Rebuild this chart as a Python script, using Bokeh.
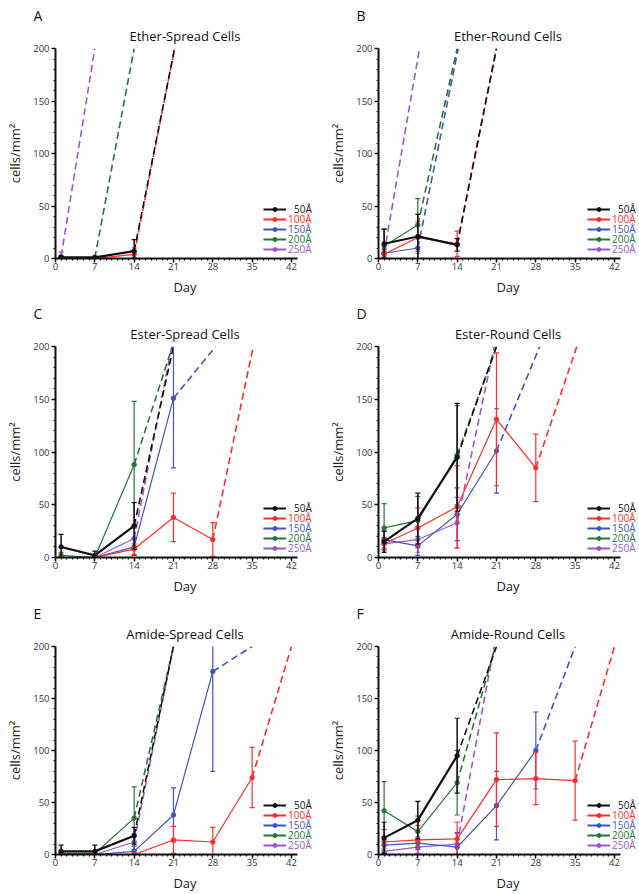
from bokeh.plotting import figure
from bokeh.layouts import column, row
from bokeh.models import FixedTicker, Range1d, Legend, LegendItem, Title
from bokeh.embed import file_html
from bokeh.resources import INLINE

FONT = "Open Sans"

# ---------------- data ----------------
DAYS = [1, 7, 14, 21, 28, 35]
X_TICKS = [0, 7, 14, 21, 28, 35, 42]
Y_TICKS = [0, 50, 100, 150, 200]
Y_TOP = 200
SERIES = ["50Å", "100Å", "150Å", "200Å", "250Å"]
COLORS = ["#111111", "#ff2d2d", "#4255b8", "#23773a", "#9b57c9"]

# each panel: mean per series (at DAYS), SD per series, day at which dashed extrapolation reaches 200
A_MEAN = [[1, 1, 7], [0, 0, 4], [0, 0, 0], [0, 0.5], [2]]
A_SD = [[1, 1, 11], [0.5, 0.5, 6], [0, 0, 0], [0.5, 1], [4]]
A_DASH = [21.2, 21.2, None, 14.0, 7.0]

B_MEAN = [[14, 21, 13], [4, 20, 14], [5, 10], [12, 32], [5]]
B_SD = [[14, 21, 6], [3, 15, 12], [4, 10], [16, 25], [4]]
B_DASH = [21.0, 21.0, 14.2, 14.0, 7.3]

C_MEAN = [[10, 2, 30], [0, 0, 8, 38, 17], [0, 0, 10, 151], [2, 0, 88], [0, 0, 18]]
C_SD = [[12, 4, 22], [1, 1, 5, 23, 16], [1, 1, 8, 66], [3, 1, 60], [1, 1, 10]]
C_DASH = [21.0, 35.2, 28.5, 20.8, 20.7]

D_MEAN = [[15, 37, 95], [13, 28, 48, 131, 85], [17, 11, 41, 101], [28, 35, 97], [13, 17, 33]]
D_SD = [[10, 24, 51], [5, 19, 39, 63, 32], [8, 9, 25, 40], [23, 23, 47], [6, 12, 24]]
D_DASH = [21.0, 35.3, 28.7, 21.0, 20.6]

E_MEAN = [[3, 3, 18], [0, 0, 0, 14, 12, 74], [0, 0, 3, 38, 176], [1, 1, 35], [0, 0, 12]]
E_SD = [[6, 6, 8], [1, 1, 1, 13, 14, 29], [1, 1, 5, 26, 96], [2, 2, 30], [1, 1, 8]]
E_DASH = [21.0, 42.0, 35.0, 21.0, 21.0]

F_MEAN = [[16, 33, 95], [12, 14, 15, 72, 73, 71], [9, 11, 7, 47, 100], [42, 22, 69], [3, 7, 10]]
F_SD = [[15, 18, 36], [12, 14, 16, 45, 25, 38], [8, 6, 14, 33, 37], [28, 15, 31], [3, 6, 10]]
F_DASH = [21.0, 42.0, 35.0, 20.8, 20.6]

LETTERS = ["A", "B", "C", "D", "E", "F"]
TITLES = ["Ether-Spread Cells", "Ether-Round Cells", "Ester-Spread Cells",
          "Ester-Round Cells", "Amide-Spread Cells", "Amide-Round Cells"]
MEANS = [A_MEAN, B_MEAN, C_MEAN, D_MEAN, E_MEAN, F_MEAN]
SDS = [A_SD, B_SD, C_SD, D_SD, E_SD, F_SD]
DASHES = [A_DASH, B_DASH, C_DASH, D_DASH, E_DASH, F_DASH]

# ---------------- layout ----------------
ROW_H = [298, 300, 296]
ROW_TOP = [48, 48, 48]
ROW_FRAME = [211, 211, 210]
NAN = float("nan")


def make_panel(idx):
    right = idx % 2 == 1
    r = idx // 2
    w = 319 if right else 320
    bl = 58 if right else 55
    br = 2 if right else 6
    h = ROW_H[r]
    top = ROW_TOP[r]
    fh = ROW_FRAME[r]
    p = figure(width=w, height=h, x_range=Range1d(0, 46.1), y_range=Range1d(0, Y_TOP),
               output_backend="svg", toolbar_location=None,
               min_border_left=bl, min_border_right=br,
               min_border_top=top, min_border_bottom=h - top - fh,
               title=LETTERS[idx])
    p.outline_line_color = None
    p.xgrid.visible = False
    p.ygrid.visible = False

    # panel letter (outermost title)
    p.title.text_font = FONT
    p.title.text_font_size = "14px"
    p.title.text_font_style = "normal"
    p.title.text_color = "#111111"
    p.title.align = "left"
    p.title.offset = -22
    p.title.standoff = -8

    # panel title (closest to the frame)
    p.add_layout(Title(text=TITLES[idx], align="center", standoff=8,
                       text_font=FONT, text_font_size="13px", text_font_style="normal",
                       text_color="#111111"), "above")

    for ax in (p.xaxis[0], p.yaxis[0]):
        ax.axis_line_width = 2
        ax.axis_line_color = "#111111"
        ax.major_tick_line_color = "#111111"
        ax.major_tick_line_width = 1.5
        ax.minor_tick_line_color = "#111111"
        ax.minor_tick_line_width = 1.2
        ax.major_tick_in = 0
        ax.major_tick_out = 4
        ax.minor_tick_in = 0
        ax.minor_tick_out = 2
        ax.major_label_text_font = FONT
        ax.major_label_text_font_size = "9.5px"
        ax.major_label_text_color = "#333333"
        ax.axis_label_text_font = FONT
        ax.axis_label_text_font_size = "13px"
        ax.axis_label_text_font_style = "normal"
        ax.axis_label_text_color = "#222222"
    p.xaxis.bounds = (0, 43)
    p.xaxis.ticker = FixedTicker(ticks=X_TICKS, minor_ticks=list(range(0, 43)))
    p.yaxis.ticker = FixedTicker(ticks=Y_TICKS, minor_ticks=list(range(0, 201, 10)))
    p.xaxis.axis_label = "Day"
    p.yaxis.axis_label = "cells/mm²"
    p.xaxis.major_label_standoff = 0
    p.yaxis.major_label_standoff = 2
    p.xaxis.axis_label_standoff = 5
    p.yaxis.axis_label_standoff = 6

    means, sds, dash = MEANS[idx], SDS[idx], DASHES[idx]
    # dashed extrapolations
    for k in reversed(range(5)):
        m = means[k]
        if dash[k] is None:
            continue
        x_last = DAYS[len(m) - 1]
        p.line([x_last, dash[k]], [m[-1], Y_TOP], line_dash="7 4", line_width=1.6,
               color=COLORS[k])
    # measured series
    for k in reversed(range(5)):
        m = means[k]
        s = sds[k]
        c = COLORS[k]
        xs = DAYS[:len(m)]
        lo = [a - b for a, b in zip(m, s)]
        hi = [a + b for a, b in zip(m, s)]
        p.segment(xs, lo, xs, hi, color=c, line_width=1.5 if k == 0 else 1.2)
        p.scatter(xs, hi, marker="dash", size=5, line_color=c, line_width=1.2)
        p.scatter(xs, lo, marker="dash", size=5, line_color=c, line_width=1.2)
        p.line(xs, m, color=c, line_width=2.2 if k == 0 else 1.2)
        p.scatter(xs, m, size=4.5, color=c)

    # legend (one per series so that each label takes its colour)
    lx = 209 if right else 208
    for k in range(5):
        c = COLORS[k]
        lr = p.line(x=[NAN], y=[NAN], color=c, line_width=2)
        sr = p.scatter(x=[NAN], y=[NAN], size=4.5, color=c)
        yc = 49 - 10 * k
        leg = Legend(items=[LegendItem(label=SERIES[k], renderers=[lr, sr])],
                     location=(lx, yc - 7), orientation="vertical",
                     glyph_width=23, glyph_height=10, label_height=10, label_width=10,
                     label_standoff=2 + (6 if k == 0 else 0), padding=0, spacing=0, margin=0,
                     border_line_color=None, background_fill_alpha=0,
                     label_text_font=FONT, label_text_font_size="10px",
                     label_text_color=c)
        p.add_layout(leg, "center")
    return p


panels = [make_panel(i) for i in range(6)]
layout = column(row(panels[0], panels[1]), row(panels[2], panels[3]), row(panels[4], panels[5]))

open("out.html", "w").write(file_html(layout, INLINE))
